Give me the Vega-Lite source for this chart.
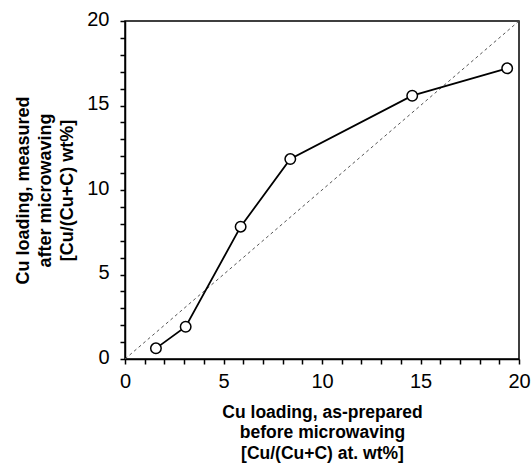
{
  "$schema": "https://vega.github.io/schema/vega-lite/v6.json",
  "autosize": "none",
  "width": 394,
  "height": 338,
  "padding": {"left": 125, "top": 21, "right": 13, "bottom": 107},
  "background": "white",
  "config": {
    "view": {"stroke": "black", "strokeWidth": 1.5},
    "font": "Liberation Sans",
    "axis": {
      "grid": false,
      "domainColor": "black",
      "domainWidth": 1.5,
      "tickColor": "black",
      "tickWidth": 1.5,
      "tickSize": 5,
      "labelFont": "Liberation Sans",
      "labelFontSize": 20,
      "labelColor": "black",
      "labelOverlap": false,
      "labelBound": false,
      "labelFlush": false,
      "titleFont": "Liberation Sans",
      "titleFontWeight": "bold",
      "titleColor": "black"
    }
  },
  "datasets": {
    "meas": [
      {"prepared": 1.57, "measured": 0.63},
      {"prepared": 3.08, "measured": 1.91},
      {"prepared": 5.87, "measured": 7.83},
      {"prepared": 8.39, "measured": 11.83},
      {"prepared": 14.58, "measured": 15.58},
      {"prepared": 19.4, "measured": 17.2}
    ],
    "parity": [
      {"prepared": 0, "measured": 0},
      {"prepared": 20, "measured": 20}
    ]
  },
  "encoding": {
    "x": {
      "field": "prepared", "type": "quantitative",
      "scale": {"domain": [0, 20], "nice": false},
      "axis": {
        "values": [0,1,2,3,4,5,6,7,8,9,10,11,12,13,14,15,16,17,18,19,20],
        "tickCount": 30,
        "format": "d",
        "labelExpr": "datum.value % 5 === 0 ? datum.label : ''",
        "labelPadding": 7,
        "title": ["Cu loading, as-prepared", "before microwaving", "[Cu/(Cu+C) at. wt%]"],
        "titleFontSize": 17.5,
        "titleLineHeight": 20.5,
        "titlePadding": 12
      }
    },
    "y": {
      "field": "measured", "type": "quantitative",
      "scale": {"domain": [0, 20], "nice": false},
      "axis": {
        "values": [0,1,2,3,4,5,6,7,8,9,10,11,12,13,14,15,16,17,18,19,20],
        "tickCount": 30,
        "format": "d",
        "labelExpr": "datum.value % 5 === 0 ? datum.label : ''",
        "labelPadding": 11,
        "labelOffset": -2,
        "title": ["Cu loading, measured", "after microwaving", "[Cu/(Cu+C) wt%]"],
        "titleFontSize": 18,
        "titleLineHeight": 22,
        "titlePadding": 10
      }
    }
  },
  "layer": [
    {
      "data": {"name": "parity"},
      "mark": {"type": "line", "color": "#555555", "strokeWidth": 1, "strokeDash": [3, 3]}
    },
    {
      "data": {"name": "meas"},
      "mark": {"type": "line", "color": "black", "strokeWidth": 1.8}
    },
    {
      "data": {"name": "meas"},
      "mark": {"type": "point", "shape": "circle", "size": 110, "stroke": "black", "strokeWidth": 1.5, "fill": "white", "filled": false, "opacity": 1}
    }
  ]
}
